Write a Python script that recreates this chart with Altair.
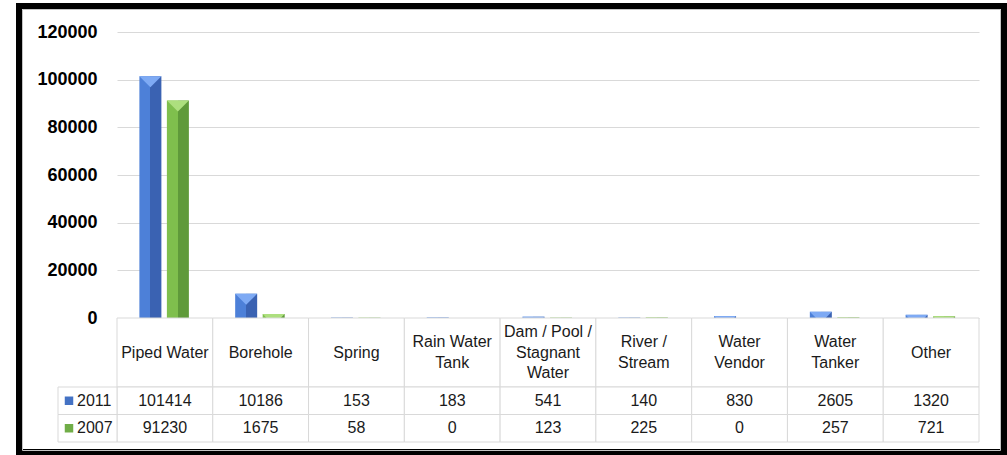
import altair as alt
import pandas as pd

# Households by main source of drinking water, 2011 vs 2007
categories = ["Piped Water", "Borehole", "Spring", "Rain Water Tank",
              "Dam / Pool / Stagnant Water", "River / Stream", "Water Vendor",
              "Water Tanker", "Other"]
header_labels = ["Piped Water", "Borehole", "Spring", "Rain Water\nTank",
                 "Dam / Pool /\nStagnant\nWater", "River /\nStream", "Water\nVendor",
                 "Water\nTanker", "Other"]
years = ["2011", "2007"]
values_2011 = [101414, 10186, 153, 183, 541, 140, 830, 2605, 1320]
values_2007 = [91230, 1675, 58, 0, 123, 225, 0, 257, 721]
y_ticks = [0, 20000, 40000, 60000, 80000, 100000, 120000]

rows = []
for yr, vals in zip(years, [values_2011, values_2007]):
    for cat, v in zip(categories, vals):
        rows.append({"source": cat, "year": yr, "households": v})
df = pd.DataFrame(rows)
df_head = pd.DataFrame({"source": categories, "label": header_labels})
df_head["lines"] = [lab.count("\n") + 1 for lab in header_labels]

W = 862
H_PLOT = 286
H_HEAD = 69
H_ROWS = 55

TEXT_FONT = "Liberation Sans"
TEXT_SIZE = 16
LINE_H = 20.5
GRID = "#d9d9d9"
INK = "#1a1a1a"

style = {
    "2011": {"light": "#4d80d8", "dark": "#3a62b2", "top": "#7eaaf4", "swatch": "#4472c4", "offset": -14.5},
    "2007": {"light": "#7fbf4d", "dark": "#5f9a3a", "top": "#addf7e", "swatch": "#70ad47", "offset": 13},
}


def bevel(light, dark):
    return alt.Gradient(
        gradient="linear", x1=0, x2=1, y1=0, y2=0,
        stops=[alt.GradientStop(color=light, offset=0),
               alt.GradientStop(color=light, offset=0.5),
               alt.GradientStop(color=dark, offset=0.5),
               alt.GradientStop(color=dark, offset=1)],
    )


x_cat = alt.X("source:N", sort=categories,
              scale=alt.Scale(paddingInner=0, paddingOuter=0), axis=None)
y_val = alt.Y("households:Q",
              scale=alt.Scale(domain=[0, 120000], nice=False, zero=True),
              axis=alt.Axis(values=y_ticks, format="d", title=None,
                            labelFont="Liberation Sans", labelFontWeight="bold",
                            labelFontSize=18, labelColor="black", labelPadding=20,
                            ticks=False, domain=False, gridColor=GRID, gridWidth=1))

base = alt.Chart(df).encode(x=x_cat, y=y_val)

layers = []
for yr in years:
    s = style[yr]
    sub = base.transform_filter(alt.datum.year == yr)
    layers.append(sub.mark_bar(width=22, xOffset=s["offset"],
                               fill=bevel(s["light"], s["dark"])))
    # lighter top facet of each bevelled column
    layers.append(sub.mark_point(shape="M-1,0L1,0L0,1Z", filled=True, size=484,
                                 xOffset=s["offset"], fill=s["top"], color=s["top"],
                                 strokeWidth=0, opacity=1, clip=True))

frame_src = alt.Chart(pd.DataFrame({"k": [0]}))
frame = frame_src.mark_rect(fill="transparent", stroke="black", strokeWidth=6).encode(
    x=alt.value(-98), x2=alt.value(887), y=alt.value(-26), y2=alt.value(420))
inner = frame_src.mark_rect(fill="transparent", stroke="#c4c4c4", strokeWidth=1).encode(
    x=alt.value(-94.5), x2=alt.value(883.5), y=alt.value(-22.5), y2=alt.value(418.5))

plot = alt.layer(*layers, frame, inner).properties(width=W, height=H_PLOT)

# data table: category header row (multi-line labels centred vertically)
head = alt.Chart(df_head).encode(x=x_cat)
head_layers = [head.mark_rect(fill="white", stroke=GRID, strokeWidth=1)]
for n in sorted(set(df_head["lines"])):
    head_layers.append(
        head.transform_filter(alt.datum.lines == n).mark_text(
            font=TEXT_FONT, fontSize=TEXT_SIZE, color=INK, lineBreak="\n",
            lineHeight=LINE_H, align="center", baseline="middle",
            dy=-(n - 1) * LINE_H / 2,
        ).encode(text="label:N")
    )
header = alt.layer(*head_layers).properties(width=W, height=H_HEAD)

# data table: value rows with series keys
y_row = alt.Y("year:N", sort=years, scale=alt.Scale(paddingInner=0, paddingOuter=0), axis=None)
vals = alt.Chart(df).encode(x=x_cat, y=y_row)
keys = alt.Chart(pd.DataFrame({"year": years})).encode(y=y_row)
table = alt.layer(
    vals.mark_rect(fill="white", stroke=GRID, strokeWidth=1),
    vals.mark_text(font=TEXT_FONT, fontSize=TEXT_SIZE, color=INK,
                   align="center", baseline="middle").encode(text="households:Q"),
    keys.mark_rect(fill="white", stroke=GRID, strokeWidth=1).encode(
        x=alt.value(-59), x2=alt.value(0)),
    keys.mark_point(shape="square", filled=True, size=72, opacity=1, strokeWidth=0).encode(
        x=alt.value(-48),
        color=alt.Color("year:N", sort=years, legend=None,
                        scale=alt.Scale(domain=years,
                                        range=[style[y]["swatch"] for y in years]))),
    keys.mark_text(font=TEXT_FONT, fontSize=TEXT_SIZE, color=INK,
                   align="left", baseline="middle").encode(
        x=alt.value(-40), text="year:N"),
).properties(width=W, height=H_ROWS)

chart = alt.vconcat(plot, header, table, spacing=0, bounds="flush").resolve_scale(
    x="independent", y="independent", color="independent"
).properties(
    padding={"left": 16, "top": 3, "right": 0, "bottom": 0},
    background="white",
).configure_view(strokeWidth=0)

chart.save("out.html", embed_options={"renderer": "svg", "actions": False})
